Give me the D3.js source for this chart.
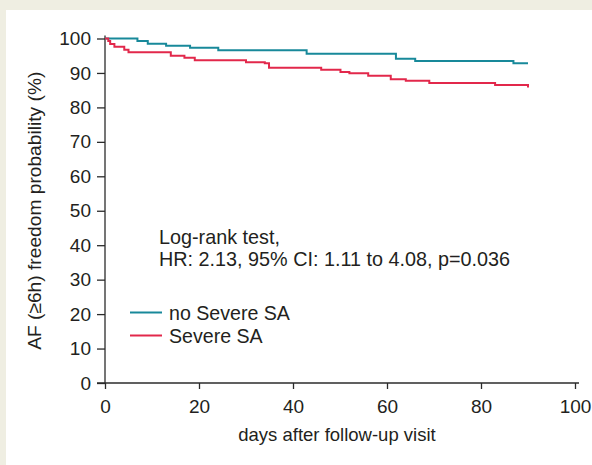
<!DOCTYPE html>
<html>
<head>
<meta charset="utf-8">
<script src="https://cdn.jsdelivr.net/npm/d3@7"></script>
<style>
  body { margin: 0; background: #efeee2; }
  text { font-family: "Liberation Sans", Arial, sans-serif; fill: #231f20; }
</style>
</head>
<body>
<script>
var W = 592, H = 465;

// Kaplan-Meier step points
var noSevereDays = [0, 6.9, 9.1, 13.0, 18.1, 24.1, 42.9, 61.9, 66.0, 86.9, 90];
var noSevereVals = [100, 99.3, 98.5, 97.9, 97.3, 96.6, 95.6, 94.1, 93.5, 92.8, 92.8];

var severeDays = [0, 0.7, 1.1, 2.0, 4.1, 5.0, 14.0, 16.9, 19.1, 30.0, 34.0, 34.9, 46.0, 50.1, 52.0, 56.0, 60.8, 64.0, 69.0, 83.0, 90];
var severeVals = [100, 99.3, 98.4, 97.6, 96.7, 96.0, 95.0, 94.4, 93.7, 93.1, 92.8, 91.5, 90.9, 90.3, 89.9, 89.2, 88.2, 87.7, 87.1, 86.5, 85.8];

var xTicks = [0, 20, 40, 60, 80, 100];
var yTicks = [0, 10, 20, 30, 40, 50, 60, 70, 80, 90, 100];

var seriesNames = ["no Severe SA", "Severe SA"];
var seriesColors = ["#18899a", "#e2284b"];
var statsLines = ["Log-rank test,", "HR: 2.13, 95% CI: 1.11 to 4.08, p=0.036"];

var svg = d3.select("body").append("svg")
    .attr("width", W)
    .attr("height", H)
    .style("display", "block");

svg.append("rect")
    .attr("width", W).attr("height", H)
    .attr("fill", "#efeee2");
svg.append("rect")
    .attr("x", 6).attr("y", 10)
    .attr("width", W - 6).attr("height", H - 10)
    .attr("fill", "#ffffff");

var x = d3.scaleLinear().domain([0, 100]).range([105, 575]);
var y = d3.scaleLinear().domain([0, 100]).range([383, 38.5]);

var axisColor = "#2b2b2b";
var fontSize = 19;

var xAxis = svg.append("g")
    .attr("transform", "translate(0," + y(0) + ")")
    .call(d3.axisBottom(x).tickValues(xTicks).tickSize(6).tickSizeOuter(0).tickPadding(11));
xAxis.select(".domain").remove();
xAxis.selectAll("line").attr("stroke", axisColor).attr("stroke-width", 1.3);
xAxis.selectAll("text").attr("font-size", fontSize).attr("font-family", "Liberation Sans, Arial, sans-serif").attr("fill", "#231f20");

var yAxis = svg.append("g")
    .attr("transform", "translate(" + x(0) + ",0)")
    .call(d3.axisLeft(y).tickValues(yTicks).tickSize(8).tickSizeOuter(0).tickPadding(6));
yAxis.select(".domain").remove();
yAxis.selectAll("line").attr("stroke", axisColor).attr("stroke-width", 1.3);
yAxis.selectAll("text").attr("font-size", fontSize).attr("font-family", "Liberation Sans, Arial, sans-serif").attr("fill", "#231f20");

// axis lines
svg.append("line")
    .attr("x1", x(0) - 8).attr("x2", x(100) + 4)
    .attr("y1", y(0)).attr("y2", y(0))
    .attr("stroke", axisColor).attr("stroke-width", 1.3);
svg.append("line")
    .attr("x1", x(0)).attr("x2", x(0))
    .attr("y1", y(100) - 3).attr("y2", y(0))
    .attr("stroke", axisColor).attr("stroke-width", 1.3);

var line = d3.line()
    .x(function(d) { return x(d[0]); })
    .y(function(d) { return y(d[1]); })
    .curve(d3.curveStepAfter);

var curves = [d3.zip(noSevereDays, noSevereVals), d3.zip(severeDays, severeVals)];

svg.selectAll("path.km")
    .data(curves)
    .enter()
    .append("path")
    .attr("class", "km")
    .attr("d", line)
    .attr("fill", "none")
    .attr("stroke", function(d, i) { return seriesColors[i]; })
    .attr("stroke-width", 2);

// stats text
svg.selectAll("text.stat")
    .data(statsLines)
    .enter()
    .append("text")
    .attr("class", "stat")
    .attr("x", 159)
    .attr("y", function(d, i) { return 244 + i * 21.7; })
    .attr("font-size", 19.8)
    .text(function(d) { return d; });

// legend
var leg = svg.selectAll("g.leg")
    .data(seriesNames)
    .enter()
    .append("g")
    .attr("class", "leg")
    .attr("transform", function(d, i) { return "translate(130," + (312.5 + i * 23) + ")"; });
leg.append("line")
    .attr("x1", 0).attr("x2", 32)
    .attr("stroke", function(d, i) { return seriesColors[i]; })
    .attr("stroke-width", 2);
leg.append("text")
    .attr("x", 39).attr("y", 7)
    .attr("font-size", 19.6)
    .text(function(d) { return d; });

// axis titles
svg.append("text")
    .attr("x", 337).attr("y", 441)
    .attr("text-anchor", "middle")
    .attr("font-size", 18.5)
    .text("days after follow-up visit");

svg.append("text")
    .attr("transform", "translate(41," + ((y(0) + y(100)) / 2) + ") rotate(-90)")
    .attr("text-anchor", "middle")
    .attr("font-size", 19.2)
    .text("AF (\u22656h) freedom probability (%)");
</script>
</body>
</html>
